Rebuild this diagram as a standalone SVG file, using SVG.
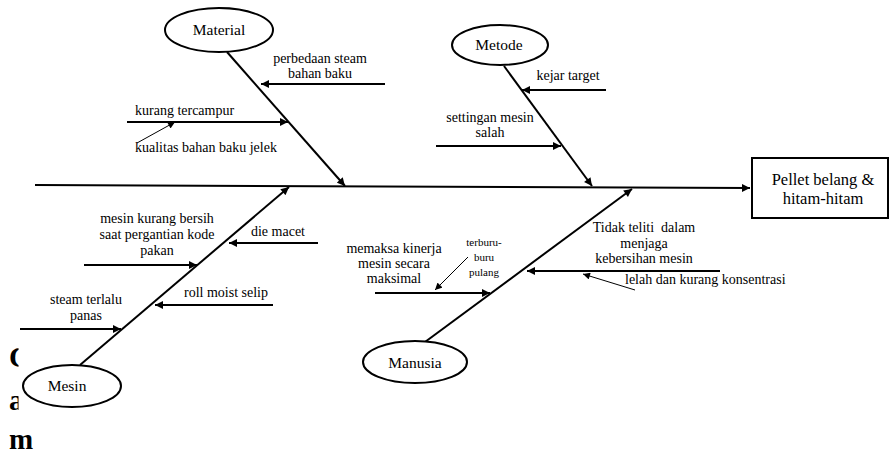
<svg xmlns="http://www.w3.org/2000/svg" width="889" height="454" viewBox="0 0 889 454">
<style>
text{font-family:"Liberation Serif","Times New Roman",serif;fill:#000}
.t{font-size:14px;text-anchor:middle}
.l{font-size:14px}
.s{font-size:11px;text-anchor:middle}
.n{font-size:15.5px;text-anchor:middle}
.frag{font-size:29px;font-weight:bold}
.bone{stroke:#000;stroke-width:2;fill:none}
.br{stroke:#000;stroke-width:2;fill:none}
.thin{stroke:#000;stroke-width:1;fill:none}
ellipse,rect.box{fill:#fff;stroke:#000;stroke-width:2}
</style>
<defs>
<marker id="ah" viewBox="0 0 10 10" refX="10" refY="5" markerWidth="4.5" markerHeight="4" orient="auto" markerUnits="strokeWidth"><path d="M0,0 L10,5 L0,10 z" fill="#000"/></marker>
<marker id="aht" viewBox="0 0 10 10" refX="10" refY="5" markerWidth="8" markerHeight="7" orient="auto" markerUnits="strokeWidth"><path d="M0,0 L10,5 L0,10 z" fill="#000"/></marker>
<clipPath id="cl"><rect x="0" y="0" width="18.5" height="454"/></clipPath>
</defs>
<rect width="889" height="454" fill="#fff"/>
<g id="fragments">
<text class="frag" x="9" y="367" clip-path="url(#cl)">C</text>
<text class="frag" x="9" y="410" clip-path="url(#cl)">a</text>
<text class="frag" x="9" y="449">m</text>
</g>
<g id="connectors">
<line class="bone" x1="35" y1="185" x2="750" y2="188" stroke-width="3" marker-end="url(#ah)"/>
<line class="bone" x1="227" y1="52" x2="345" y2="186" marker-end="url(#ah)"/>
<line class="bone" x1="504" y1="66" x2="592" y2="186" marker-end="url(#ah)"/>
<line class="bone" x1="80" y1="365" x2="289" y2="187" marker-end="url(#ah)"/>
<line class="bone" x1="425" y1="342" x2="632" y2="189" marker-end="url(#ah)"/>
<line class="br" x1="385" y1="84" x2="261" y2="84" marker-end="url(#ah)"/>
<line class="br" x1="127" y1="122" x2="288" y2="122" marker-end="url(#ah)"/>
<line class="thin" x1="137" y1="143" x2="175" y2="122" marker-end="url(#aht)"/>
<line class="br" x1="606" y1="90" x2="522" y2="90" marker-end="url(#ah)"/>
<line class="br" x1="436" y1="146" x2="561" y2="146" marker-end="url(#ah)"/>
<line class="br" x1="84" y1="265" x2="197" y2="265" marker-end="url(#ah)"/>
<line class="br" x1="318" y1="243" x2="229" y2="243" marker-end="url(#ah)"/>
<line class="br" x1="273" y1="305" x2="155" y2="305" marker-end="url(#ah)"/>
<line class="br" x1="20" y1="329" x2="121" y2="329" marker-end="url(#ah)"/>
<line class="br" x1="375" y1="293" x2="490" y2="293" marker-end="url(#ah)"/>
<line class="thin" x1="468" y1="257" x2="435" y2="290" marker-end="url(#aht)"/>
<line class="br" x1="720" y1="271" x2="527" y2="271" marker-end="url(#ah)"/>
<line class="thin" x1="635" y1="290" x2="583" y2="274" marker-end="url(#aht)"/>
</g>
<g id="material"><ellipse cx="219" cy="30" rx="54" ry="22"/><text class="n" x="219" y="35">Material</text></g>
<g id="metode"><ellipse cx="500" cy="45" rx="48" ry="20"/><text class="n" x="499" y="50">Metode</text></g>
<g id="mesin"><ellipse cx="72" cy="386" rx="49" ry="21"/><text class="n" x="67" y="391">Mesin</text></g>
<g id="manusia"><ellipse cx="415" cy="362" rx="52" ry="21"/><text class="n" x="415" y="368">Manusia</text></g>
<g id="effect"><rect class="box" x="752" y="158" width="136" height="60"/><text class="n" x="823" y="185" style="font-size:16.5px">Pellet belang &amp;</text><text class="n" x="823" y="204" style="font-size:16.5px">hitam-hitam</text></g>
<g id="causes">
<text class="t" x="320" y="63">perbedaan steam</text>
<text class="t" x="320" y="78">bahan baku</text>
<text class="l" x="135" y="115">kurang tercampur</text>
<text class="l" x="135" y="152">kualitas bahan baku jelek</text>
<text class="t" x="568" y="80">kejar target</text>
<text class="t" x="490" y="122">settingan mesin</text>
<text class="t" x="490" y="137">salah</text>
<text class="t" x="157" y="223">mesin kurang bersih</text>
<text class="t" x="157" y="239">saat pergantian kode</text>
<text class="t" x="157" y="255">pakan</text>
<text class="t" x="278" y="236">die macet</text>
<text class="t" x="226" y="297">roll moist selip</text>
<text class="t" x="86" y="304">steam terlalu</text>
<text class="t" x="86" y="320">panas</text>
<text class="t" x="394" y="253">memaksa kinerja</text>
<text class="t" x="394" y="268">mesin secara</text>
<text class="t" x="394" y="283">maksimal</text>
<text class="s" x="484" y="246">terburu-</text>
<text class="s" x="484" y="261">buru</text>
<text class="s" x="484" y="276">pulang</text>
<text class="t" x="644" y="232" style="white-space:pre">Tidak teliti  dalam</text>
<text class="t" x="644" y="248">menjaga</text>
<text class="t" x="644" y="263">kebersihan mesin</text>
<text class="l" x="625" y="284">lelah dan kurang konsentrasi</text>
</g>
</svg>
